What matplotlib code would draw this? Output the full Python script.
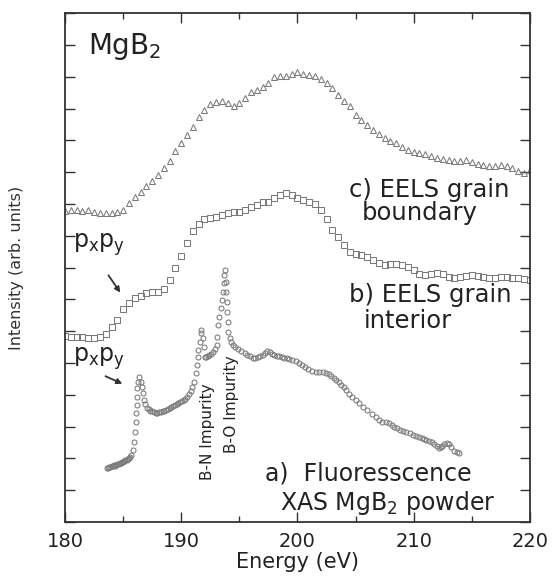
import numpy as np
import matplotlib.pyplot as plt
from matplotlib.ticker import MultipleLocator

plt.rcParams['font.family'] = 'DejaVu Sans'
plt.rcParams['mathtext.default'] = 'regular'

# c) EELS grain boundary (triangles), 0.5 eV steps
E_c = [180.0 + 0.5 * i for i in range(81)]
I_c = [9.78, 9.81, 9.81, 9.78, 9.81, 9.75, 9.72, 9.72, 9.72, 9.75,
       9.81, 10.03, 10.22, 10.38, 10.57, 10.72, 10.91, 11.13, 11.35, 11.67,
       11.92, 12.17, 12.42, 12.74, 12.96, 13.14, 13.21, 13.24, 13.18, 13.08,
       13.18, 13.33, 13.52, 13.58, 13.68, 13.81, 13.99, 14.03, 14.03, 14.09,
       14.15, 14.09, 14.06, 14.03, 13.93, 13.81, 13.65, 13.43, 13.24, 13.08,
       12.80, 12.64, 12.48, 12.33, 12.20, 12.08, 11.98, 11.92, 11.79, 11.70,
       11.64, 11.60, 11.57, 11.51, 11.45, 11.42, 11.38, 11.35, 11.35, 11.38,
       11.32, 11.26, 11.23, 11.19, 11.19, 11.23, 11.19, 11.13, 11.04, 10.97,
       11.07]

# b) EELS grain interior (squares), 0.5 eV steps
E_b = [180.0 + 0.5 * i for i in range(81)]
I_b = [5.85, 5.82, 5.82, 5.82, 5.79, 5.79, 5.82, 5.91, 6.13, 6.35,
       6.70, 6.89, 7.04, 7.11, 7.20, 7.23, 7.23, 7.33, 7.61, 7.99,
       8.36, 8.77, 9.15, 9.37, 9.53, 9.56, 9.59, 9.65, 9.72, 9.75,
       9.75, 9.81, 9.91, 9.97, 10.06, 10.06, 10.19, 10.28, 10.35, 10.28,
       10.19, 10.13, 10.06, 10.00, 9.81, 9.53, 9.18, 8.96, 8.71, 8.49,
       8.43, 8.40, 8.33, 8.24, 8.14, 8.08, 8.11, 8.11, 8.08, 8.02,
       7.92, 7.80, 7.77, 7.80, 7.83, 7.80, 7.70, 7.67, 7.70, 7.74,
       7.77, 7.74, 7.70, 7.67, 7.67, 7.70, 7.70, 7.67, 7.67, 7.64,
       7.61]

# a) Fluorescence XAS MgB2 powder (circles)
E_a = [183.6, 183.7, 183.8, 183.9, 184.0, 184.1, 184.2, 184.3, 184.4, 184.5,
       184.6, 184.7, 184.8, 184.9, 185.0, 185.1, 185.2, 185.3, 185.4, 185.5,
       185.6, 185.7, 185.84, 185.92, 186.01, 186.09, 186.14, 186.18, 186.2, 186.22,
       186.27, 186.35, 186.52, 186.61, 186.7, 186.78, 186.9, 187.05, 187.2, 187.35,
       187.5, 187.65, 187.8, 187.95, 188.1, 188.25, 188.4, 188.55, 188.7, 188.85,
       189.0, 189.15, 189.3, 189.45, 189.6, 189.75, 189.9, 190.05, 190.2, 190.35,
       190.5, 190.65, 190.8, 190.95, 191.07, 191.24, 191.33, 191.42, 191.46, 191.59,
       191.67, 191.72, 191.85, 191.93, 192.02, 192.15, 192.27, 192.4, 192.53, 192.7,
       192.9, 193.05, 193.09, 193.13, 193.22, 193.39, 193.48, 193.56, 193.65, 193.7,
       193.75, 193.82, 193.86, 193.91, 193.95, 193.99, 194.03, 194.16, 194.3, 194.42,
       194.6, 194.85, 195.1, 195.45, 195.7, 195.9, 196.14, 196.35, 196.57, 196.8,
       197.0, 197.2, 197.42, 197.6, 197.77, 198.0, 198.2, 198.4, 198.63, 198.85,
       199.06, 199.3, 199.57, 199.85, 200.17, 200.4, 200.69, 200.95, 201.29, 201.6,
       201.89, 202.2, 202.49, 202.7, 202.92, 203.15, 203.35, 203.55, 203.78, 204.0,
       204.21, 204.45, 204.72, 205.0, 205.32, 205.65, 206.01, 206.4, 206.78, 207.05,
       207.3, 207.6, 207.9, 208.1, 208.33, 208.6, 208.84, 209.1, 209.36, 209.65,
       209.96, 210.2, 210.47, 210.7, 210.9, 211.1, 211.33, 211.55, 211.76, 212.0,
       212.19, 212.35, 212.45, 212.62, 212.88, 213.05, 213.22, 213.48, 213.73, 213.91]
I_a = [1.70, 1.71, 1.73, 1.72, 1.75, 1.76, 1.78, 1.77, 1.80, 1.82,
       1.83, 1.85, 1.86, 1.88, 1.90, 1.92, 1.94, 1.96, 1.99, 2.01,
       2.05, 2.10, 2.26, 2.52, 2.83, 3.14, 3.43, 3.68, 3.93, 4.21,
       4.40, 4.56, 4.40, 4.25, 4.06, 3.84, 3.70, 3.60, 3.55, 3.50,
       3.48, 3.45, 3.44, 3.43, 3.45, 3.47, 3.48, 3.50, 3.53, 3.55,
       3.58, 3.61, 3.64, 3.67, 3.70, 3.73, 3.76, 3.79, 3.83, 3.88,
       3.94, 4.02, 4.12, 4.26, 4.40, 4.69, 4.94, 5.19, 5.41, 5.66,
       5.94, 6.04, 5.79, 5.50, 5.19, 5.20, 5.22, 5.25, 5.28, 5.35,
       5.45, 5.57, 5.82, 6.19, 6.45, 6.73, 6.98, 7.23, 7.52, 7.77,
       7.92, 7.55, 7.23, 6.92, 6.60, 6.29, 5.97, 5.79, 5.66, 5.57,
       5.50, 5.44, 5.38, 5.31, 5.25, 5.21, 5.16, 5.17, 5.19, 5.22,
       5.25, 5.31, 5.38, 5.33, 5.28, 5.25, 5.22, 5.21, 5.19, 5.17,
       5.16, 5.12, 5.09, 5.05, 5.00, 4.94, 4.87, 4.81, 4.75, 4.73,
       4.72, 4.71, 4.69, 4.64, 4.59, 4.53, 4.47, 4.39, 4.31, 4.23,
       4.15, 4.04, 3.93, 3.84, 3.74, 3.63, 3.52, 3.41, 3.30, 3.22,
       3.14, 3.13, 3.11, 3.05, 2.99, 2.94, 2.89, 2.86, 2.83, 2.79,
       2.74, 2.71, 2.67, 2.64, 2.61, 2.58, 2.55, 2.50, 2.45, 2.39,
       2.33, 2.36, 2.39, 2.45, 2.48, 2.45, 2.36, 2.23, 2.20, 2.17]

fig = plt.figure(figsize=(5.56, 5.77), dpi=100)
ax = fig.add_axes([0.117, 0.0953, 0.836, 0.882])

edge = '#7a7a7a'
ax.plot(E_c, I_c, linestyle='none', marker='^', ms=4.4, mfc='none', mec=edge, mew=0.75)
ax.plot(E_b, I_b, linestyle='none', marker='s', ms=3.7, mfc='none', mec=edge, mew=0.75)
ax.plot(E_a, I_a, linestyle='none', marker='o', ms=3.6, mfc='none', mec=edge, mew=0.75)

ax.set_xlim(180, 220)
ax.set_ylim(0, 16)
ax.xaxis.set_major_locator(MultipleLocator(10))
ax.xaxis.set_minor_locator(MultipleLocator(5))
ax.yaxis.set_major_locator(MultipleLocator(1))
ax.set_yticklabels([])
ax.tick_params(which='both', direction='in', top=True, right=True, color='#333333', width=1.0)
ax.tick_params(which='major', length=7, labelsize=14, pad=7, labelcolor='#222222')
ax.tick_params(which='minor', length=4)
for s in ax.spines.values():
    s.set_linewidth(1.3)
    s.set_color('#333333')

ax.set_xlabel('Energy (eV)', fontsize=15, labelpad=1, color='#222222')
ax.set_ylabel('Intensity (arb. units)', fontsize=11.5, color='#333333')
ax.yaxis.set_label_coords(-0.088, 0.5)

tc = '#222222'
ax.text(182.0, 14.7, r'MgB$_2$', fontsize=20, color=tc)
ax.text(180.7, 8.62, r'p$_x$p$_y$', fontsize=17, color=tc)
ax.text(180.7, 5.03, r'p$_x$p$_y$', fontsize=17, color=tc)
arrow = dict(arrowstyle='-|>', color='#333333', lw=1.3, mutation_scale=8)
ax.annotate('', xy=(184.89, 7.14), xytext=(183.6, 7.83), arrowprops=arrow)
ax.annotate('', xy=(185.15, 4.31), xytext=(183.26, 4.62), arrowprops=arrow)

ax.text(204.4, 10.22, 'c) EELS grain', fontsize=17.5, color=tc)
ax.text(205.5, 9.50, 'boundary', fontsize=17.5, color=tc)
ax.text(204.4, 6.92, 'b) EELS grain', fontsize=17.5, color=tc)
ax.text(205.7, 6.10, 'interior', fontsize=17.5, color=tc)
ax.text(197.2, 1.29, 'a)  Fluoresscence', fontsize=17, color=tc)
ax.text(198.5, 0.38, r'XAS MgB$_2$ powder', fontsize=17, color=tc)

ax.text(192.27, 1.32, 'B-N Impurity', rotation=90, ha='center', va='bottom', fontsize=11, color=tc)
ax.text(194.33, 2.17, 'B-O Impurity', rotation=90, ha='center', va='bottom', fontsize=11, color=tc)

fig.savefig('out.png', dpi=100)
